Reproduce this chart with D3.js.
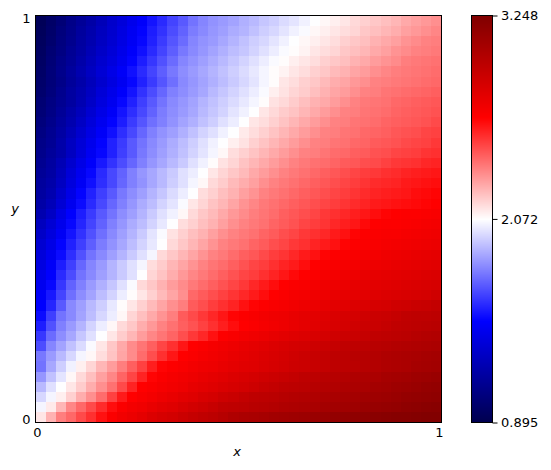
<!DOCTYPE html>
<html><head><meta charset="utf-8">
<script src="https://cdn.jsdelivr.net/npm/d3@7"></script>
<style>html,body{margin:0;padding:0;background:#fff}svg{display:block}text{font-family:"DejaVu Sans",sans-serif;font-size:13px;fill:#000}</style>
</head><body><svg id="c" width="551" height="470"></svg>
<script>
// Values on a coarser 40 x 40 grid; first row is the top of the plot.
const xLabels = [0, 1], yLabels = [0, 1];
const vMin = 0.895, vMid = 2.072, vMax = 3.248;
const heat = [
[0.93,0.98,1.03,1.09,1.14,1.19,1.25,1.31,1.36,1.42,1.47,1.53,1.58,1.64,1.69,1.75,1.79,1.82,1.84,1.86,1.89,1.91,1.94,1.96,1.99,2.01,2.04,2.07,2.09,2.11,2.13,2.16,2.18,2.20,2.22,2.24,2.27,2.29,2.31,2.33],
[0.94,0.99,1.05,1.10,1.16,1.21,1.27,1.32,1.38,1.44,1.49,1.55,1.60,1.66,1.71,1.77,1.80,1.83,1.85,1.88,1.90,1.93,1.96,1.98,2.01,2.04,2.06,2.09,2.11,2.13,2.15,2.17,2.20,2.22,2.24,2.26,2.29,2.31,2.33,2.35],
[0.95,1.00,1.06,1.11,1.17,1.22,1.28,1.33,1.39,1.45,1.50,1.56,1.62,1.68,1.73,1.79,1.82,1.84,1.87,1.90,1.93,1.96,1.98,2.01,2.04,2.07,2.09,2.11,2.13,2.15,2.18,2.20,2.22,2.25,2.27,2.29,2.32,2.34,2.36,2.37],
[0.96,1.02,1.07,1.13,1.18,1.24,1.30,1.35,1.41,1.47,1.52,1.58,1.64,1.70,1.76,1.80,1.83,1.86,1.89,1.92,1.94,1.97,2.00,2.03,2.06,2.08,2.10,2.13,2.15,2.17,2.20,2.22,2.24,2.27,2.29,2.32,2.34,2.36,2.37,2.38],
[0.97,1.03,1.09,1.14,1.20,1.26,1.32,1.37,1.43,1.49,1.55,1.61,1.67,1.73,1.79,1.82,1.85,1.88,1.91,1.94,1.97,2.00,2.03,2.06,2.08,2.11,2.13,2.15,2.18,2.20,2.22,2.25,2.27,2.30,2.32,2.34,2.37,2.38,2.39,2.40],
[0.98,1.04,1.10,1.16,1.22,1.28,1.34,1.40,1.46,1.52,1.58,1.64,1.70,1.76,1.81,1.84,1.87,1.90,1.93,1.96,1.99,2.02,2.05,2.08,2.10,2.13,2.15,2.18,2.20,2.23,2.25,2.28,2.30,2.33,2.35,2.37,2.38,2.39,2.40,2.41],
[0.99,1.04,1.09,1.15,1.20,1.26,1.32,1.38,1.44,1.50,1.56,1.62,1.68,1.74,1.80,1.83,1.86,1.89,1.92,1.95,1.98,2.01,2.05,2.08,2.13,2.15,2.18,2.20,2.23,2.26,2.28,2.31,2.33,2.36,2.37,2.38,2.39,2.40,2.41,2.42],
[1.00,1.05,1.11,1.17,1.22,1.28,1.35,1.41,1.47,1.53,1.60,1.66,1.72,1.78,1.81,1.84,1.87,1.91,1.94,1.97,2.00,2.03,2.06,2.11,2.14,2.17,2.19,2.22,2.25,2.28,2.30,2.33,2.36,2.37,2.39,2.40,2.41,2.42,2.43,2.44],
[1.02,1.07,1.12,1.17,1.23,1.30,1.37,1.43,1.50,1.56,1.63,1.69,1.75,1.80,1.83,1.86,1.90,1.93,1.96,1.99,2.02,2.05,2.08,2.14,2.16,2.19,2.22,2.25,2.27,2.30,2.33,2.36,2.38,2.39,2.40,2.42,2.43,2.44,2.45,2.46],
[1.03,1.08,1.14,1.20,1.26,1.33,1.40,1.46,1.53,1.59,1.65,1.71,1.77,1.81,1.84,1.87,1.91,1.94,1.97,2.01,2.04,2.07,2.13,2.16,2.19,2.21,2.24,2.27,2.30,2.33,2.36,2.37,2.39,2.40,2.41,2.43,2.44,2.45,2.46,2.47],
[1.05,1.10,1.16,1.22,1.29,1.36,1.43,1.49,1.55,1.62,1.68,1.74,1.78,1.82,1.86,1.89,1.93,1.96,2.00,2.03,2.07,2.13,2.15,2.18,2.21,2.24,2.27,2.30,2.33,2.36,2.37,2.39,2.40,2.41,2.43,2.44,2.45,2.46,2.47,2.49],
[1.07,1.12,1.18,1.25,1.32,1.39,1.46,1.52,1.59,1.65,1.72,1.78,1.82,1.85,1.89,1.93,1.97,2.00,2.04,2.07,2.12,2.15,2.18,2.21,2.24,2.27,2.30,2.33,2.36,2.37,2.39,2.40,2.42,2.43,2.44,2.46,2.47,2.48,2.50,2.51],
[1.09,1.13,1.20,1.28,1.35,1.42,1.49,1.56,1.62,1.69,1.75,1.80,1.84,1.88,1.92,1.96,2.00,2.04,2.07,2.11,2.14,2.18,2.21,2.24,2.27,2.30,2.33,2.36,2.37,2.39,2.40,2.42,2.43,2.45,2.46,2.47,2.49,2.50,2.51,2.53],
[1.10,1.15,1.20,1.28,1.36,1.44,1.50,1.56,1.63,1.69,1.76,1.81,1.85,1.89,1.93,1.97,2.01,2.05,2.09,2.15,2.18,2.21,2.24,2.27,2.30,2.33,2.36,2.37,2.39,2.41,2.42,2.44,2.45,2.47,2.48,2.50,2.51,2.52,2.54,2.55],
[1.12,1.17,1.24,1.32,1.40,1.47,1.54,1.60,1.66,1.72,1.78,1.83,1.87,1.91,1.95,2.00,2.04,2.08,2.14,2.17,2.21,2.24,2.27,2.30,2.33,2.36,2.38,2.40,2.41,2.43,2.45,2.46,2.48,2.49,2.51,2.53,2.54,2.55,2.57,2.58],
[1.14,1.18,1.26,1.35,1.43,1.50,1.58,1.65,1.71,1.78,1.83,1.87,1.91,1.95,2.00,2.03,2.07,2.13,2.17,2.20,2.23,2.27,2.30,2.33,2.36,2.38,2.40,2.42,2.44,2.46,2.48,2.50,2.52,2.53,2.55,2.56,2.58,2.59,2.60,2.61],
[1.16,1.20,1.28,1.37,1.45,1.52,1.59,1.65,1.72,1.78,1.82,1.87,1.91,1.96,2.00,2.05,2.09,2.16,2.19,2.23,2.26,2.29,2.33,2.36,2.38,2.40,2.42,2.44,2.46,2.48,2.50,2.52,2.54,2.56,2.57,2.58,2.60,2.61,2.62,2.63],
[1.17,1.22,1.31,1.40,1.49,1.56,1.63,1.69,1.76,1.81,1.85,1.90,1.94,1.99,2.03,2.07,2.15,2.18,2.22,2.25,2.29,2.32,2.36,2.38,2.40,2.42,2.44,2.46,2.48,2.50,2.52,2.54,2.56,2.58,2.59,2.60,2.61,2.63,2.64,2.65],
[1.19,1.25,1.34,1.43,1.51,1.58,1.65,1.72,1.78,1.83,1.88,1.92,1.97,2.01,2.06,2.13,2.17,2.21,2.24,2.28,2.32,2.35,2.38,2.40,2.42,2.44,2.46,2.48,2.50,2.52,2.54,2.56,2.58,2.60,2.61,2.62,2.63,2.64,2.65,2.66],
[1.22,1.29,1.39,1.48,1.55,1.62,1.69,1.75,1.81,1.85,1.90,1.95,2.00,2.04,2.09,2.16,2.20,2.23,2.27,2.31,2.34,2.37,2.39,2.41,2.44,2.46,2.48,2.50,2.53,2.55,2.57,2.59,2.61,2.63,2.65,2.66,2.67,2.67,2.68,2.69],
[1.27,1.34,1.42,1.50,1.57,1.64,1.71,1.78,1.83,1.88,1.92,1.97,2.02,2.07,2.15,2.18,2.22,2.25,2.29,2.33,2.36,2.38,2.40,2.43,2.45,2.47,2.50,2.52,2.54,2.57,2.59,2.61,2.64,2.66,2.67,2.67,2.68,2.69,2.70,2.71],
[1.30,1.37,1.45,1.53,1.60,1.67,1.74,1.80,1.85,1.90,1.95,2.01,2.06,2.14,2.18,2.22,2.25,2.29,2.33,2.36,2.38,2.40,2.43,2.45,2.48,2.50,2.53,2.55,2.57,2.60,2.62,2.65,2.67,2.68,2.69,2.69,2.70,2.71,2.72,2.73],
[1.33,1.40,1.49,1.56,1.63,1.70,1.77,1.82,1.87,1.92,1.97,2.02,2.07,2.16,2.20,2.24,2.28,2.32,2.36,2.38,2.40,2.43,2.45,2.48,2.50,2.53,2.55,2.58,2.60,2.62,2.65,2.67,2.68,2.69,2.70,2.71,2.72,2.73,2.74,2.75],
[1.36,1.43,1.51,1.59,1.67,1.75,1.80,1.85,1.90,1.95,2.00,2.05,2.16,2.20,2.24,2.28,2.32,2.36,2.38,2.41,2.44,2.46,2.49,2.52,2.54,2.57,2.60,2.62,2.65,2.67,2.68,2.69,2.70,2.71,2.73,2.74,2.75,2.76,2.77,2.78],
[1.38,1.46,1.55,1.63,1.72,1.79,1.84,1.90,1.95,2.00,2.05,2.15,2.19,2.24,2.28,2.32,2.36,2.39,2.41,2.44,2.47,2.50,2.52,2.55,2.58,2.60,2.63,2.66,2.68,2.69,2.70,2.71,2.73,2.74,2.75,2.76,2.77,2.78,2.79,2.80],
[1.41,1.48,1.58,1.66,1.75,1.80,1.85,1.90,1.95,2.00,2.07,2.17,2.21,2.26,2.31,2.35,2.38,2.41,2.44,2.47,2.50,2.52,2.55,2.58,2.61,2.64,2.66,2.68,2.70,2.71,2.73,2.74,2.76,2.77,2.78,2.79,2.80,2.81,2.82,2.83],
[1.43,1.50,1.61,1.71,1.78,1.84,1.89,1.94,2.00,2.06,2.16,2.20,2.25,2.30,2.34,2.38,2.41,2.44,2.47,2.50,2.53,2.57,2.60,2.63,2.66,2.68,2.69,2.71,2.73,2.74,2.75,2.77,2.78,2.79,2.80,2.81,2.82,2.83,2.84,2.85],
[1.46,1.54,1.64,1.74,1.81,1.86,1.92,1.97,2.03,2.08,2.13,2.18,2.23,2.28,2.33,2.42,2.45,2.48,2.51,2.54,2.57,2.60,2.63,2.66,2.68,2.70,2.71,2.73,2.74,2.76,2.77,2.78,2.79,2.81,2.82,2.83,2.84,2.85,2.86,2.88],
[1.48,1.57,1.69,1.80,1.85,1.91,1.96,2.02,2.08,2.13,2.18,2.23,2.28,2.33,2.37,2.45,2.48,2.52,2.55,2.58,2.62,2.65,2.67,2.69,2.70,2.72,2.74,2.75,2.77,2.79,2.80,2.82,2.83,2.85,2.86,2.88,2.89,2.91,2.92,2.94],
[1.51,1.63,1.75,1.80,1.86,1.92,1.98,2.03,2.09,2.17,2.22,2.27,2.32,2.37,2.45,2.49,2.53,2.57,2.61,2.65,2.67,2.69,2.71,2.73,2.74,2.76,2.78,2.79,2.81,2.83,2.85,2.86,2.88,2.90,2.91,2.93,2.95,2.96,2.96,2.97],
[1.55,1.67,1.78,1.84,1.90,1.97,2.03,2.09,2.16,2.20,2.26,2.31,2.36,2.40,2.44,2.47,2.51,2.55,2.59,2.63,2.66,2.68,2.70,2.72,2.74,2.76,2.78,2.80,2.82,2.84,2.86,2.88,2.90,2.91,2.93,2.95,2.96,2.97,2.98,2.99],
[1.61,1.73,1.81,1.87,1.94,2.00,2.07,2.13,2.19,2.24,2.30,2.35,2.39,2.43,2.48,2.53,2.57,2.62,2.67,2.69,2.71,2.73,2.75,2.77,2.79,2.81,2.82,2.84,2.86,2.88,2.90,2.91,2.93,2.95,2.96,2.97,2.98,3.00,3.01,3.02],
[1.66,1.79,1.86,1.93,1.99,2.06,2.13,2.20,2.27,2.34,2.39,2.44,2.50,2.55,2.61,2.66,2.68,2.70,2.72,2.74,2.76,2.78,2.80,2.82,2.84,2.86,2.87,2.89,2.91,2.93,2.95,2.96,2.97,2.99,3.00,3.01,3.02,3.03,3.04,3.05],
[1.76,1.84,1.91,1.98,2.05,2.09,2.15,2.21,2.28,2.34,2.41,2.48,2.55,2.61,2.66,2.68,2.70,2.72,2.74,2.76,2.78,2.80,2.82,2.84,2.86,2.88,2.90,2.92,2.94,2.96,2.97,2.99,3.00,3.01,3.03,3.04,3.05,3.06,3.07,3.08],
[1.75,1.87,1.96,2.04,2.11,2.17,2.24,2.30,2.37,2.44,2.51,2.59,2.65,2.67,2.69,2.71,2.73,2.74,2.76,2.78,2.80,2.81,2.83,2.85,2.87,2.89,2.90,2.92,2.94,2.96,2.97,2.98,3.00,3.01,3.03,3.04,3.05,3.07,3.08,3.09],
[1.83,1.93,2.01,2.09,2.16,2.22,2.29,2.35,2.43,2.50,2.58,2.65,2.68,2.70,2.72,2.74,2.76,2.78,2.80,2.82,2.84,2.86,2.88,2.90,2.92,2.94,2.96,2.97,2.99,3.00,3.01,3.03,3.04,3.05,3.07,3.08,3.09,3.11,3.12,3.13],
[1.91,2.00,2.07,2.13,2.19,2.26,2.33,2.40,2.49,2.58,2.66,2.68,2.70,2.72,2.74,2.77,2.79,2.81,2.83,2.85,2.87,2.89,2.92,2.94,2.96,2.97,2.98,3.00,3.01,3.02,3.04,3.05,3.06,3.08,3.09,3.11,3.12,3.13,3.15,3.16],
[1.98,2.05,2.11,2.18,2.26,2.33,2.41,2.51,2.60,2.66,2.69,2.71,2.74,2.76,2.79,2.81,2.84,2.86,2.89,2.91,2.94,2.96,2.97,2.98,3.00,3.01,3.02,3.03,3.05,3.06,3.07,3.08,3.10,3.11,3.12,3.13,3.15,3.16,3.17,3.18],
[2.05,2.12,2.24,2.35,2.42,2.49,2.56,2.63,2.68,2.71,2.73,2.76,2.79,2.81,2.84,2.87,2.89,2.92,2.95,2.96,2.97,2.99,3.00,3.01,3.03,3.04,3.05,3.06,3.08,3.09,3.10,3.11,3.13,3.14,3.15,3.16,3.18,3.19,3.20,3.21],
[2.13,2.25,2.37,2.42,2.49,2.55,2.62,2.68,2.72,2.75,2.78,2.82,2.85,2.87,2.90,2.93,2.95,2.97,3.00,3.03,3.05,3.06,3.07,3.09,3.10,3.11,3.12,3.13,3.14,3.16,3.17,3.18,3.19,3.20,3.21,3.22,3.22,3.23,3.24,3.24]
];
const cbTicks = [0.895, 2.072, 3.248];
const seismic = ["#00004d","#0000ff","#ffffff","#ff0000","#800000"];

const svg = d3.select("#c");
const L = 35.5, R = 441.5, T = 15.5, B = 422.5;
const colIdx = d3.range(heat[0].length), rowIdx = d3.range(heat.length);
const bx = d3.scaleBand().domain(colIdx).range([L, R]);
const by = d3.scaleBand().domain(rowIdx).range([T, B]);
const color = d3.scaleDiverging(d3.piecewise(d3.interpolateRgb, seismic)).domain([vMin, vMid, vMax]);

// Heatmap cells
svg.append("g").attr("shape-rendering", "crispEdges").selectAll("g")
  .data(heat).join("g").attr("transform", (d, i) => `translate(0,${by(i)})`)
  .selectAll("rect").data(d => d).join("rect")
  .attr("x", (d, j) => bx(j)).attr("width", bx.bandwidth() + 0.5)
  .attr("height", by.bandwidth() + 0.5).attr("fill", d => color(d));

// Frame
svg.append("rect").attr("x", L).attr("y", T).attr("width", R - L).attr("height", B - T)
  .attr("fill", "none").attr("stroke", "#000");

// Axes: labels sit just inside the frame's corners
const x = d3.scaleLinear().domain([0, 1]).range([L + 1.5, R - 2.5]);
const y = d3.scaleLinear().domain([0, 1]).range([B - 3, T + 3]);
const gx = svg.append("g").attr("transform", `translate(0,${B})`)
  .call(d3.axisBottom(x).tickValues(xLabels).tickSize(0).tickPadding(5).tickFormat(d3.format("d")));
gx.select(".domain").remove();
const gy = svg.append("g").attr("transform", `translate(${L},0)`)
  .call(d3.axisLeft(y).tickValues(yLabels).tickSize(0).tickPadding(5).tickFormat(d3.format("d")));
gy.select(".domain").remove();
svg.selectAll(".tick text").style("font-size", "13px").style("font-family", '"DejaVu Sans"');
svg.append("text").attr("x", 237).attr("y", 456).attr("text-anchor", "middle").attr("font-style", "italic").text("x");
svg.append("text").attr("x", 15).attr("y", 213).attr("text-anchor", "middle").attr("font-style", "italic").text("y");

// Colour bar
const cbL = 471.5, cbR = 492.5;
const cy = d3.scaleLinear().domain([vMin, vMax]).range([B, T]);
svg.append("g").attr("shape-rendering", "crispEdges").selectAll("rect")
  .data(d3.range(T, B, 1)).join("rect")
  .attr("x", cbL).attr("width", cbR - cbL).attr("y", d => d).attr("height", 1.2)
  .attr("fill", d => color(cy.invert(d + 0.5)));
svg.append("rect").attr("x", cbL).attr("y", T).attr("width", cbR - cbL).attr("height", B - T)
  .attr("fill", "none").attr("stroke", "#000");
const gc = svg.append("g").attr("transform", `translate(${cbR},0)`)
  .call(d3.axisRight(cy).tickValues(cbTicks).tickSize(5).tickPadding(3.5).tickFormat(d3.format(".3f")));
gc.select(".domain").remove();
gc.selectAll(".tick text").style("font-size", "13px").style("font-family", '"DejaVu Sans"').attr("dy", "0.32em");
</script></body></html>
